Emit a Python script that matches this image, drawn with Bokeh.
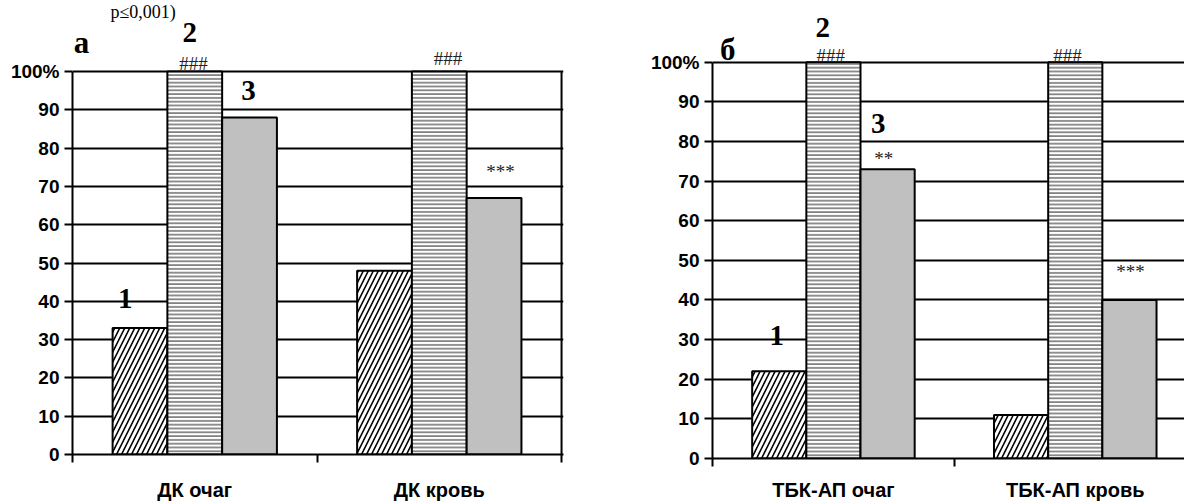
from bokeh.plotting import figure
from bokeh.layouts import row, column
from bokeh.models import ColumnDataSource, FixedTicker, Label, Range1d, Spacer
from bokeh.embed import file_html
from bokeh.resources import INLINE

# ---------------- data ----------------
cats_a = ["ДК очаг", "ДК кровь"]
grp1_a = [33, 48]     # series 1 (diagonal hatch)
grp2_a = [100, 100]   # series 2 (horizontal hatch)
grp3_a = [88, 67]     # series 3 (grey)

cats_b = ["ТБК-АП очаг", "ТБК-АП кровь"]
grp1_b = [22, 11]
grp2_b = [100, 100]
grp3_b = [73, 40]

y_ticks = [0, 10, 20, 30, 40, 50, 60, 70, 80, 90, 100]
y_labels = {t: str(t) for t in y_ticks}
y_labels[100] = "100%"

sig_a = ["###", "###", "***"]
sig_b = ["###", "###", "**", "***"]

SANS = "Liberation Sans"
SERIF = "Liberation Serif"
BW = 0.224
OFF = 0.224


def make_panel(cats, s1, s2, s3, width, height, xend, yend, mb_left, mb_right,
               mb_bottom, standoff, right_border):
    p = figure(width=width, height=height, output_backend="svg",
               toolbar_location=None, x_range=Range1d(0, xend),
               y_range=Range1d(0, yend),
               min_border_left=mb_left, min_border_right=mb_right,
               min_border_top=0, min_border_bottom=mb_bottom)
    p.background_fill_color = "white"
    p.border_fill_color = "white"
    p.outline_line_color = None

    centers = [i + 0.5 for i in range(len(cats))]
    src = ColumnDataSource(dict(
        x1=[c - OFF for c in centers], x2=centers, x3=[c + OFF for c in centers],
        s1=s1, s2=s2, s3=s3))

    p.xgrid.grid_line_color = None
    p.ygrid.grid_line_color = "black"
    p.ygrid.grid_line_width = 2
    p.ygrid.ticker = FixedTicker(ticks=y_ticks)

    if right_border:
        p.segment(x0=[len(cats)], y0=[0], x1=[len(cats)], y1=[y_ticks[-1]],
                  line_color="black", line_width=2)

    p.vbar(x="x1", top="s1", bottom=0, width=BW, source=src,
           fill_color="white", line_color="black", line_width=2,
           hatch_pattern="right_diagonal_line", hatch_color="black",
           hatch_scale=10, hatch_weight=1.6)
    p.vbar(x="x2", top="s2", bottom=0, width=BW, source=src,
           fill_color="white", line_color="black", line_width=2,
           hatch_pattern="horizontal_line", hatch_color="#555555",
           hatch_scale=3.8, hatch_weight=1.3)
    p.vbar(x="x3", top="s3", bottom=0, width=BW, source=src,
           fill_color="#C0C0C0", line_color="black", line_width=2)

    ya = p.yaxis[0]
    ya.ticker = FixedTicker(ticks=y_ticks)
    ya.bounds = (0, y_ticks[-1])
    ya.major_label_overrides = y_labels
    ya.axis_line_color = "black"
    ya.axis_line_width = 2
    ya.major_tick_line_color = "black"
    ya.major_tick_line_width = 2
    ya.major_tick_in = 0
    ya.major_tick_out = 8
    ya.minor_tick_line_color = None
    ya.major_label_standoff = 5
    ya.major_label_text_font = SANS
    ya.major_label_text_font_style = "bold"
    ya.major_label_text_font_size = "19px"
    ya.major_label_text_color = "black"

    xa = p.xaxis[0]
    xa.ticker = FixedTicker(ticks=centers,
                            minor_ticks=list(range(len(cats) + 1)))
    xa.major_label_overrides = {c: n for c, n in zip(centers, cats)}
    xa.axis_line_color = "black"
    xa.axis_line_width = 2
    xa.major_tick_line_color = None
    xa.major_tick_in = 0
    xa.major_tick_out = 0
    xa.minor_tick_line_color = "black"
    xa.minor_tick_line_width = 2
    xa.minor_tick_in = 0
    xa.minor_tick_out = 8
    xa.major_label_standoff = standoff
    xa.major_label_text_font = SANS
    xa.major_label_text_font_style = "bold"
    xa.major_label_text_font_size = "20px"
    xa.major_label_text_color = "black"
    return p


def lab(p, x, y, text, size, font=SERIF, style="bold", color="black",
        align="center"):
    p.add_layout(Label(x=x, y=y, text=text, text_font=font,
                       text_font_style=style, text_font_size=size,
                       text_align=align, text_baseline="middle",
                       text_color=color))


# ---------------- panel а ----------------
pa = make_panel(cats_a, grp1_a, grp2_a, grp3_a, width=600, height=503,
                xend=2.008, yend=454 / 3.83, mb_left=72, mb_right=37,
                mb_bottom=49, standoff=16, right_border=True)
lab(pa, 0.037, 107.6, "а", "31px")
lab(pa, 0.48, 110.2, "2", "29px")
lab(pa, 0.495, 102.0, sig_a[0], "19px", style="normal", color="#222222")
lab(pa, 0.72, 95.0, "3", "29px")
lab(pa, 0.216, 40.7, "1", "29px")
lab(pa, 1.536, 103.5, sig_a[1], "19px", style="normal", color="#222222")
lab(pa, 1.75, 73.8, sig_a[2], "19px", style="normal", color="#222222")
lab(pa, 0.155, 115.6, "р≤0,001)", "18px", style="normal", align="left")

# ---------------- panel б ----------------
# shifted down by 4 px: its frame spans 4..458 of the page
pb = make_panel(cats_b, grp1_b, grp2_b, grp3_b, width=584, height=499,
                xend=(1184 - 711.7) / 242, yend=(458.3 - 4) / 3.966,
                mb_left=112, mb_right=0, mb_bottom=45, standoff=12,
                right_border=False)
lab(pb, 0.063, 103.2, "б", "31px")
lab(pb, 0.456, 108.7, "2", "29px")
lab(pb, 0.489, 101.6, sig_b[0], "19px", style="normal", color="#222222")
lab(pb, 0.685, 84.5, "3", "29px")
lab(pb, 0.708, 75.7, sig_b[2], "19px", style="normal", color="#222222")
lab(pb, 0.266, 31.1, "1", "29px")
lab(pb, 1.468, 101.6, sig_b[1], "19px", style="normal", color="#222222")
lab(pb, 1.728, 47.3, sig_b[3], "19px", style="normal", color="#222222")

layout = row(pa, column(Spacer(width=584, height=4), pb))
open("out.html", "w").write(file_html(layout, INLINE))
